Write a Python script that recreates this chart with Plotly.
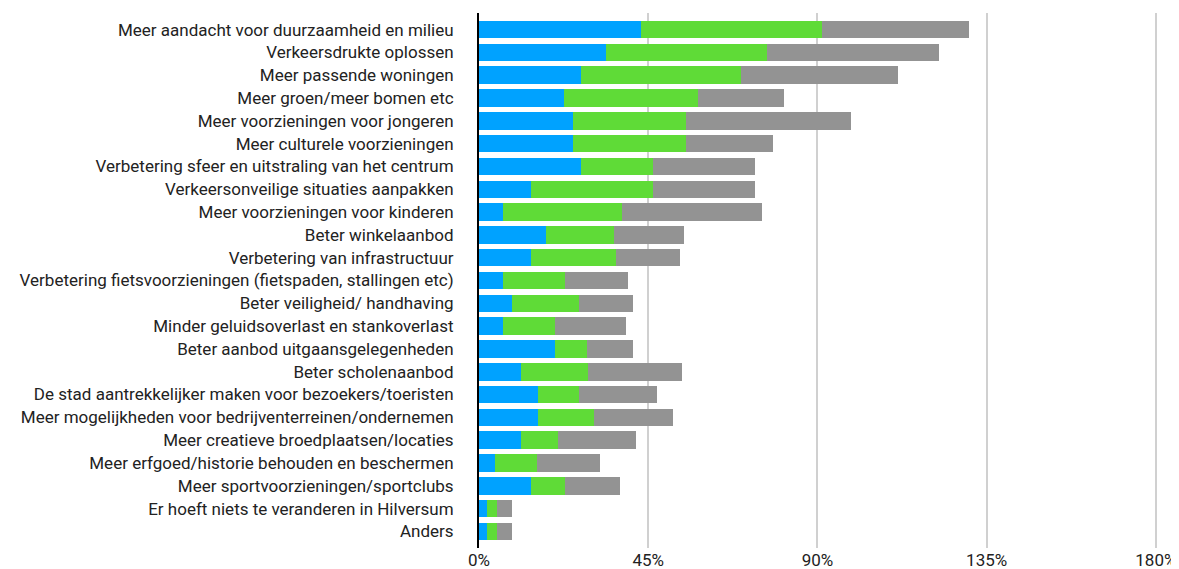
import plotly.graph_objects as go

# ---- data ----------------------------------------------------------------
CATEGORIES = [
    "Meer aandacht voor duurzaamheid en milieu",
    "Verkeersdrukte oplossen",
    "Meer passende woningen",
    "Meer groen/meer bomen etc",
    "Meer voorzieningen voor jongeren",
    "Meer culturele voorzieningen",
    "Verbetering sfeer en uitstraling van het centrum",
    "Verkeersonveilige situaties aanpakken",
    "Meer voorzieningen voor kinderen",
    "Beter winkelaanbod",
    "Verbetering van infrastructuur",
    "Verbetering fietsvoorzieningen (fietspaden, stallingen etc)",
    "Beter veiligheid/ handhaving",
    "Minder geluidsoverlast en stankoverlast",
    "Beter aanbod uitgaansgelegenheden",
    "Beter scholenaanbod",
    "De stad aantrekkelijker maken voor bezoekers/toeristen",
    "Meer mogelijkheden voor bedrijventerreinen/ondernemen",
    "Meer creatieve broedplaatsen/locaties",
    "Meer erfgoed/historie behouden en beschermen",
    "Meer sportvoorzieningen/sportclubs",
    "Er hoeft niets te veranderen in Hilversum",
    "Anders",
]

# percentages per segment (first, second, third choice)
BLUE_VALUES = [43.1, 33.9, 27.0, 22.5, 25.1, 25.1, 27.0, 13.7, 6.3, 17.7, 13.7, 6.3,
               8.9, 6.3, 20.3, 11.1, 15.6, 15.6, 11.1, 4.2, 13.7, 2.0, 2.0]
GREEN_VALUES = [48.0, 42.7, 42.7, 35.8, 30.0, 30.0, 19.3, 32.6, 31.8, 18.3, 22.8, 16.7,
                17.8, 14.0, 8.5, 18.0, 11.1, 15.1, 9.8, 11.1, 9.3, 2.7, 2.7]
GRAY_VALUES = [39.3, 45.6, 41.6, 22.8, 43.7, 23.0, 27.1, 27.1, 37.1, 18.5, 17.0, 16.7,
               14.3, 18.9, 12.2, 24.9, 20.7, 20.9, 20.9, 17.0, 14.6, 4.2, 4.2]

X_TICKS = [0, 45, 90, 135, 180]
X_TICK_LABELS = ["0%", "45%", "90%", "135%", "180%"]

# ---- palette -------------------------------------------------------------
BLUE = "#00a2ff"
GREEN = "#5fdb37"
GRAY = "#939393"

fig = go.Figure()
for vals, color in [(BLUE_VALUES, BLUE), (GREEN_VALUES, GREEN), (GRAY_VALUES, GRAY)]:
    fig.add_trace(go.Bar(
        y=CATEGORIES, x=vals, orientation="h", marker_color=color,
        marker_line_width=0, showlegend=False,
        hovertemplate="%{y}<br>%{x:.1f}%<extra></extra>",
    ))

n = len(CATEGORIES)
# page body has an 8px margin, so the figure is sized/offset to compensate
fig.update_layout(
    barmode="stack",
    bargap=0.23,
    width=1171,
    height=561,
    margin=dict(l=471, r=22, t=5, b=21),
    plot_bgcolor="white",
    paper_bgcolor="white",
    font=dict(family="Roboto, sans-serif", size=17, color="#222222"),
)
fig.update_xaxes(
    range=[0, 180.3], tickvals=X_TICKS, ticktext=X_TICK_LABELS,
    showgrid=True, gridcolor="#d0d0d0", gridwidth=2, zeroline=False,
    showline=False, ticks="", tickfont=dict(size=17), automargin=False,
)
fig.update_yaxes(
    type="category", categoryorder="array", categoryarray=CATEGORIES,
    range=[n - 1 + 0.73, -0.73], showgrid=False, showline=True,
    linecolor="black", linewidth=2, ticks="", ticklabelstandoff=20,
    tickfont=dict(size=17), automargin=False,
)

fig.write_html("out.html")
